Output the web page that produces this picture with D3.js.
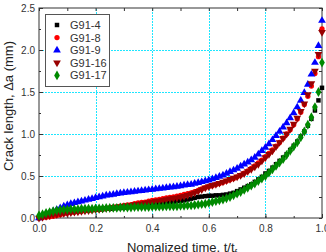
<!DOCTYPE html>
<html lang="en">
<head>
  <meta charset="utf-8">
  <title>Crack length</title>
  <script src="https://d3js.org/d3.v7.min.js"></script>
  <style>
    body { margin: 0; background: #fff; }
    text { font-family: "Liberation Sans", Arial, sans-serif; }
  </style>
</head>
<body>
<script>
var seriesNames = ["G91-4", "G91-8", "G91-9", "G91-16", "G91-17"];
var g91_4 = [0.00,0.015,0.03,0.04,0.05,0.06,0.065,0.07,0.075,0.08,0.085,0.085,0.09,0.09,0.095,0.095,0.10,0.10,0.105,0.11,
  0.11,0.115,0.12,0.12,0.125,0.13,0.135,0.14,0.14,0.145,0.15,0.155,0.16,0.165,0.17,0.175,0.18,0.185,0.19,0.20,
  0.205,0.21,0.22,0.23,0.24,0.25,0.255,0.26,0.265,0.265,0.27,0.27,0.275,0.28,0.29,0.30,0.32,0.34,0.36,0.38,
  0.40,0.43,0.46,0.49,0.53,0.56,0.60,0.64,0.68,0.72,0.76,0.81,0.86,0.91,0.97,1.03,1.10,1.18,1.28,1.40,1.55];
var g91_8 = [0.00,0.005,0.01,0.015,0.02,0.03,0.04,0.05,0.06,0.065,0.07,0.075,0.08,0.085,0.09,0.095,0.10,0.105,0.11,0.115,
  0.12,0.13,0.135,0.14,0.15,0.155,0.16,0.17,0.18,0.185,0.19,0.20,0.21,0.215,0.22,0.23,0.24,0.245,0.25,0.26,
  0.27,0.28,0.29,0.30,0.315,0.33,0.345,0.36,0.375,0.385,0.40,0.41,0.425,0.44,0.455,0.47,0.49,0.51,0.535,0.56,
  0.59,0.62,0.655,0.69,0.73,0.77,0.81,0.855,0.90,0.95,1.00,1.05,1.11,1.18,1.26,1.35,1.45,1.57,1.72,1.92,2.25];
var g91_9 = [0.00,0.02,0.04,0.06,0.08,0.10,0.12,0.14,0.155,0.17,0.18,0.19,0.20,0.21,0.22,0.23,0.24,0.25,0.26,0.27,
  0.275,0.28,0.29,0.295,0.30,0.305,0.31,0.315,0.32,0.325,0.33,0.335,0.34,0.345,0.35,0.355,0.36,0.365,0.37,0.375,
  0.38,0.39,0.395,0.40,0.41,0.42,0.43,0.44,0.45,0.465,0.48,0.495,0.51,0.53,0.55,0.57,0.59,0.615,0.64,0.665,
  0.69,0.72,0.76,0.80,0.84,0.88,0.93,0.98,1.03,1.08,1.13,1.19,1.25,1.32,1.40,1.49,1.59,1.71,1.85,2.05,2.35];
var g91_16 = [0.00,0.01,0.02,0.03,0.04,0.045,0.05,0.055,0.06,0.065,0.07,0.075,0.08,0.085,0.09,0.095,0.10,0.105,0.11,0.115,
  0.12,0.125,0.13,0.135,0.14,0.145,0.15,0.16,0.165,0.17,0.18,0.185,0.19,0.20,0.205,0.21,0.22,0.23,0.235,0.24,
  0.25,0.26,0.27,0.285,0.30,0.32,0.34,0.36,0.375,0.39,0.40,0.415,0.43,0.445,0.46,0.475,0.49,0.51,0.53,0.555,
  0.58,0.61,0.64,0.68,0.72,0.76,0.80,0.85,0.90,0.95,1.00,1.06,1.12,1.19,1.27,1.36,1.47,1.60,1.75,1.95,2.21];
var g91_17 = [0.03,0.045,0.06,0.07,0.08,0.09,0.095,0.10,0.10,0.105,0.105,0.105,0.11,0.11,0.11,0.11,0.115,0.115,0.115,0.12,
  0.12,0.12,0.12,0.125,0.125,0.125,0.125,0.13,0.13,0.13,0.13,0.13,0.135,0.135,0.135,0.135,0.14,0.14,0.14,0.14,
  0.145,0.145,0.15,0.15,0.155,0.16,0.165,0.17,0.18,0.19,0.20,0.21,0.22,0.235,0.25,0.27,0.29,0.31,0.335,0.36,
  0.385,0.41,0.44,0.47,0.50,0.54,0.58,0.62,0.66,0.70,0.75,0.80,0.85,0.90,0.96,1.03,1.11,1.20,1.32,1.50,1.85];
var xTicks = [0.0, 0.2, 0.4, 0.6, 0.8, 1.0];
var yTicks = [0.0, 0.5, 1.0, 1.5, 2.0, 2.5];

var colors = ["#000000", "#ff0000", "#0000ff", "#990000", "#008a00"];
var shapes = [d3.symbolSquare, d3.symbolCircle, d3.symbolTriangle, d3.symbolTriangle, d3.symbolDiamond];
var allSeries = [g91_4, g91_8, g91_9, g91_16, g91_17];

var W = 326, H = 252;
var margin = {left: 39, right: 4, top: 8, bottom: 34};

var svg = d3.select("body").append("svg")
  .attr("width", W).attr("height", H);

var x = d3.scaleLinear().domain([0, 1]).range([margin.left, W - margin.right]);
var y = d3.scaleLinear().domain([0, 2.5]).range([H - margin.bottom, margin.top]);

function crisp(v) { return Math.round(v) + 0.5; }

// grid, cyan dotted
var gridColor = "#1ee6ff";
svg.append("g").selectAll("line").data(xTicks.slice(1, -1)).enter().append("line")
  .attr("x1", d => crisp(x(d))).attr("x2", d => crisp(x(d)))
  .attr("y1", y(0)).attr("y2", y(2.5))
  .attr("stroke", gridColor).attr("stroke-width", 1).attr("stroke-dasharray", "2,1")
  .attr("shape-rendering", "crispEdges");
svg.append("g").selectAll("line").data(yTicks.slice(1, -1)).enter().append("line")
  .attr("x1", x(0)).attr("x2", x(1))
  .attr("y1", d => crisp(y(d))).attr("y2", d => crisp(y(d)))
  .attr("stroke", gridColor).attr("stroke-width", 1).attr("stroke-dasharray", "2,1")
  .attr("shape-rendering", "crispEdges");

// axes with inward ticks on all sides
function styleAxis(g) {
  g.select(".domain").remove();
  g.selectAll("line").attr("stroke", "#333");
  g.selectAll("text").attr("fill", "#333").style("font-size", "10px");
}
var xMinor = d3.range(0, 1.0001, 0.1);
var yMinor = d3.range(0, 2.5001, 0.25);

svg.append("g").attr("transform", "translate(0," + y(0) + ")")
  .call(d3.axisBottom(x).tickValues(xMinor).tickSize(-2).tickFormat(""))
  .call(styleAxis);
svg.append("g").attr("transform", "translate(0," + y(0) + ")")
  .call(d3.axisBottom(x).tickValues(xTicks).tickSize(-4).tickPadding(7).tickFormat(d3.format(".1f")))
  .call(styleAxis);
svg.append("g").attr("transform", "translate(0," + y(2.5) + ")")
  .call(d3.axisTop(x).tickValues(xMinor).tickSize(-3).tickFormat(""))
  .call(styleAxis);
svg.append("g").attr("transform", "translate(" + x(0) + ",0)")
  .call(d3.axisLeft(y).tickValues(yMinor).tickSize(-2).tickFormat(""))
  .call(styleAxis);
svg.append("g").attr("transform", "translate(" + x(0) + ",0)")
  .call(d3.axisLeft(y).tickValues(yTicks).tickSize(-4).tickPadding(4).tickFormat(d3.format(".1f")))
  .call(styleAxis);
svg.append("g").attr("transform", "translate(" + x(1) + ",0)")
  .call(d3.axisRight(y).tickValues(yMinor).tickSize(-3).tickFormat(""))
  .call(styleAxis);

// frame
svg.append("rect")
  .attr("x", x(0)).attr("y", y(2.5))
  .attr("width", x(1) - x(0)).attr("height", y(0) - y(2.5))
  .attr("fill", "none").attr("stroke", "#333").attr("stroke-width", 1);

// points
var sizes = [20, 22, 26, 26, 28];
allSeries.forEach(function(vals, k) {
  svg.append("g").selectAll("path").data(vals).enter().append("path")
    .attr("d", d3.symbol().type(shapes[k]).size(sizes[k]))
    .attr("transform", function(d, i) {
      var rot = k === 3 ? " rotate(180)" : "";
      return "translate(" + x(i / 80) + "," + y(d) + ")" + rot;
    })
    .attr("fill", colors[k]);
});

// legend
var leg = svg.append("g");
leg.append("rect").attr("x", 45.5).attr("y", 14.5).attr("width", 64).attr("height", 72)
  .attr("fill", "#fff").attr("stroke", "#555").attr("stroke-width", 1);
seriesNames.forEach(function(name, k) {
  var yy = 25 + k * 12.6;
  leg.append("path")
    .attr("d", d3.symbol().type(shapes[k]).size(sizes[k]))
    .attr("transform", "translate(57," + yy + ")" + (k === 3 ? " rotate(180)" : ""))
    .attr("fill", colors[k]);
  leg.append("text").attr("x", 70).attr("y", yy + 4)
    .attr("fill", "#333").style("font-size", "11px").text(name);
});

// axis titles
svg.append("text")
  .attr("transform", "translate(13," + 106 + ") rotate(-90)")
  .attr("text-anchor", "middle").attr("fill", "#222").style("font-size", "13px")
  .text("Crack length, \u0394a (mm)");
var xt = svg.append("text")
  .attr("x", 182).attr("y", 251.5)
  .attr("text-anchor", "middle").attr("fill", "#222").style("font-size", "13px");
xt.append("tspan").text("Nomalized time, t/t");
xt.append("tspan").attr("dy", 4).style("font-size", "9px").text("f");
</script>
</body>
</html>
